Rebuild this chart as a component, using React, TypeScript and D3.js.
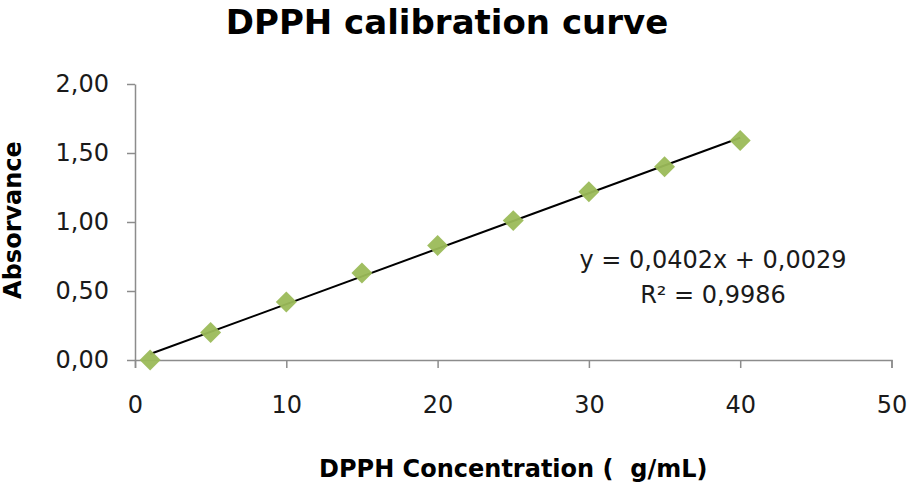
import { useEffect, useRef } from "react";
import * as d3 from "d3";

const concentrations = [1, 5, 10, 15, 20, 25, 30, 35, 40];
const absorbances = [0.0, 0.2, 0.42, 0.63, 0.83, 1.01, 1.22, 1.4, 1.59];
const xTicks = [0, 10, 20, 30, 40, 50];
const yTicks = [0, 0.5, 1, 1.5, 2];
const slope = 0.0402;
const intercept = 0.0029;
const rSquared = "0,9986";

export default function App() {
  const svgRef = useRef<SVGSVGElement | null>(null);

  useEffect(() => {
    if (!svgRef.current) return;

    const width = 911;
    const height = 489;
    const margin = { top: 84, right: 19.5, bottom: 129, left: 135 };
    const font = "'DejaVu Sans', Verdana, sans-serif";

    const svg = d3.select(svgRef.current);
    svg.selectAll("*").remove();

    const xScale = d3
      .scaleLinear()
      .domain([0, 50])
      .range([margin.left, width - margin.right]);

    const yScale = d3
      .scaleLinear()
      .domain([0, 2])
      .range([height - margin.bottom, margin.top]);

    const fmt = (v: number, digits: number) => v.toFixed(digits).replace(".", ",");

    // Axes
    const xAxis = svg
      .append("g")
      .attr("transform", `translate(0,${height - margin.bottom})`)
      .call(
        d3
          .axisBottom(xScale)
          .tickValues(xTicks)
          .tickSizeInner(8)
          .tickSizeOuter(8)
          .tickPadding(28)
          .tickFormat((d) => String(d))
      );

    const yAxis = svg
      .append("g")
      .attr("transform", `translate(${margin.left},0)`)
      .call(
        d3
          .axisLeft(yScale)
          .tickValues(yTicks)
          .tickSizeInner(8)
          .tickSizeOuter(0)
          .tickPadding(18)
          .tickFormat((d) => fmt(d as number, 2))
      );

    [xAxis, yAxis].forEach((g) => {
      g.select(".domain").attr("stroke", "#8c8c8c").attr("stroke-width", 1.5);
      g.selectAll(".tick line").attr("stroke", "#8c8c8c").attr("stroke-width", 1.5);
      g.selectAll(".tick text")
        .attr("fill", "#1a1a1a")
        .attr("font-family", font)
        .attr("font-size", 24);
    });

    // Trendline
    const xs = d3.extent(concentrations) as [number, number];
    svg
      .append("path")
      .attr("fill", "none")
      .attr("stroke", "#000")
      .attr("stroke-width", 2)
      .attr(
        "d",
        d3
          .line<number>()
          .x((d) => xScale(d))
          .y((d) => yScale(slope * d + intercept))(xs)
      );

    // Markers
    const diamond = d3.symbol().type(d3.symbolSquare).size(220);
    svg
      .append("g")
      .selectAll("path")
      .data(concentrations.map((c, i) => ({ c, a: absorbances[i] })))
      .join("path")
      .attr("d", diamond)
      .attr(
        "transform",
        (d) => `translate(${xScale(d.c)},${yScale(d.a)}) rotate(45)`
      )
      .attr("fill", "#9bbb59")
      .attr("fill-opacity", 0.95);

    // Equation
    const eq = svg
      .append("text")
      .attr("font-family", font)
      .attr("font-size", 24)
      .attr("fill", "#1a1a1a")
      .attr("text-anchor", "middle");
    eq.append("tspan")
      .attr("x", 713)
      .attr("y", 268)
      .text(`y = ${fmt(slope, 4)}x + ${fmt(intercept, 4)}`);
    eq.append("tspan").attr("x", 713).attr("y", 303).text(`R² = ${rSquared}`);

    // Title
    svg
      .append("text")
      .attr("x", 447)
      .attr("y", 34)
      .attr("text-anchor", "middle")
      .attr("font-family", font)
      .attr("font-weight", "bold")
      .attr("font-size", 34)
      .text("DPPH calibration curve");

    // Axis labels
    svg
      .append("text")
      .attr("x", (margin.left + width - margin.right) / 2)
      .attr("y", 477)
      .attr("text-anchor", "middle")
      .attr("font-family", font)
      .attr("font-weight", "bold")
      .attr("font-size", 24)
      .attr("xml:space", "preserve")
      .style("white-space", "pre")
      .text("DPPH Concentration (  g/mL)");

    svg
      .append("text")
      .attr("transform", "rotate(-90)")
      .attr("x", -220)
      .attr("y", 21)
      .attr("text-anchor", "middle")
      .attr("font-family", font)
      .attr("font-weight", "bold")
      .attr("font-size", 24)
      .text("Absorvance");
  }, []);

  return (
    <div style={{ position: "absolute", left: 0, top: 0 }}>
      <svg ref={svgRef} width={911} height={489} style={{ display: "block", background: "#fff" }} />
    </div>
  );
}
